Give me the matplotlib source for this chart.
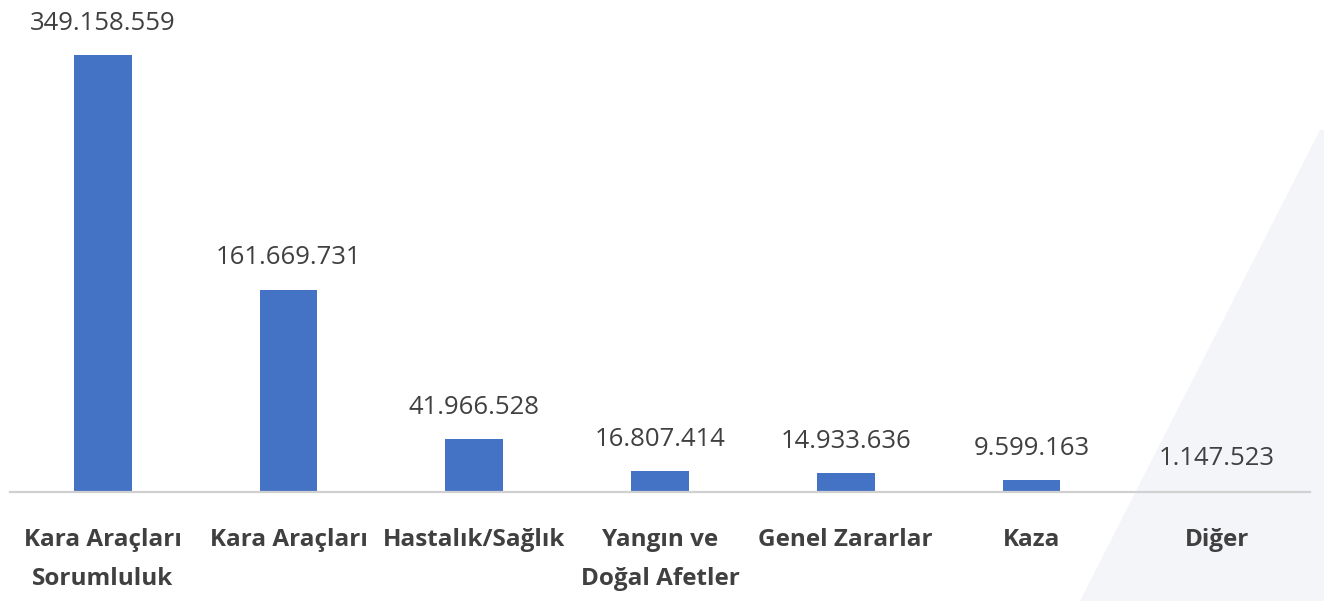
import matplotlib.pyplot as plt
from matplotlib.patches import Polygon

# Data
categories = ["Kara Araçları\nSorumluluk", "Kara Araçları", "Hastalık/Sağlık",
              "Yangın ve\nDoğal Afetler", "Genel Zararlar", "Kaza", "Diğer"]
values = [349158559, 161669731, 41966528, 16807414, 14933636, 9599163, 1147523]
value_labels = ["349.158.559", "161.669.731", "41.966.528", "16.807.414",
                "14.933.636", "9.599.163", "1.147.523"]

plt.rcParams['font.family'] = ['Open Sans', 'DejaVu Sans']

fig = plt.figure(figsize=(13.24, 6.01), dpi=100)

# light background shape on the right
tri = Polygon([[1080 / 1324, 0], [1320 / 1324, 1 - 130 / 601], [1, 1 - 130 / 601], [1, 0]],
              closed=True, transform=fig.transFigure, facecolor="#F4F5F9",
              edgecolor="none", zorder=0)
fig.patches.append(tri)

ax = fig.add_axes([10 / 1324, 109 / 601, 1300 / 1324, 492 / 601])
ax.set_zorder(2)
ax.patch.set_alpha(0)

x = range(len(categories))
bars = ax.bar(x, values, width=0.31, color="#4472C4", zorder=2)

for xi, v, lab in zip(x, values, value_labels):
    ax.annotate(lab, (xi, v), xytext=(0, 14), textcoords="offset points",
                ha="center", va="bottom", fontsize=18.5, color="#404040")

ax.set_xlim(-0.5, len(categories) - 0.5)
ax.set_ylim(0, 349158559 * 492 / 437)
ax.set_xticks(list(x))
ax.set_xticklabels(categories, fontsize=17.5, fontweight="bold", color="#404040",
                   linespacing=1.85)
ax.tick_params(axis="x", length=0, pad=26)
ax.set_yticks([])
for s in ["top", "right", "left"]:
    ax.spines[s].set_visible(False)
ax.spines["bottom"].set_color("#D0D0D0")
ax.spines["bottom"].set_linewidth(1.6)

plt.savefig("out.png", dpi=100)
